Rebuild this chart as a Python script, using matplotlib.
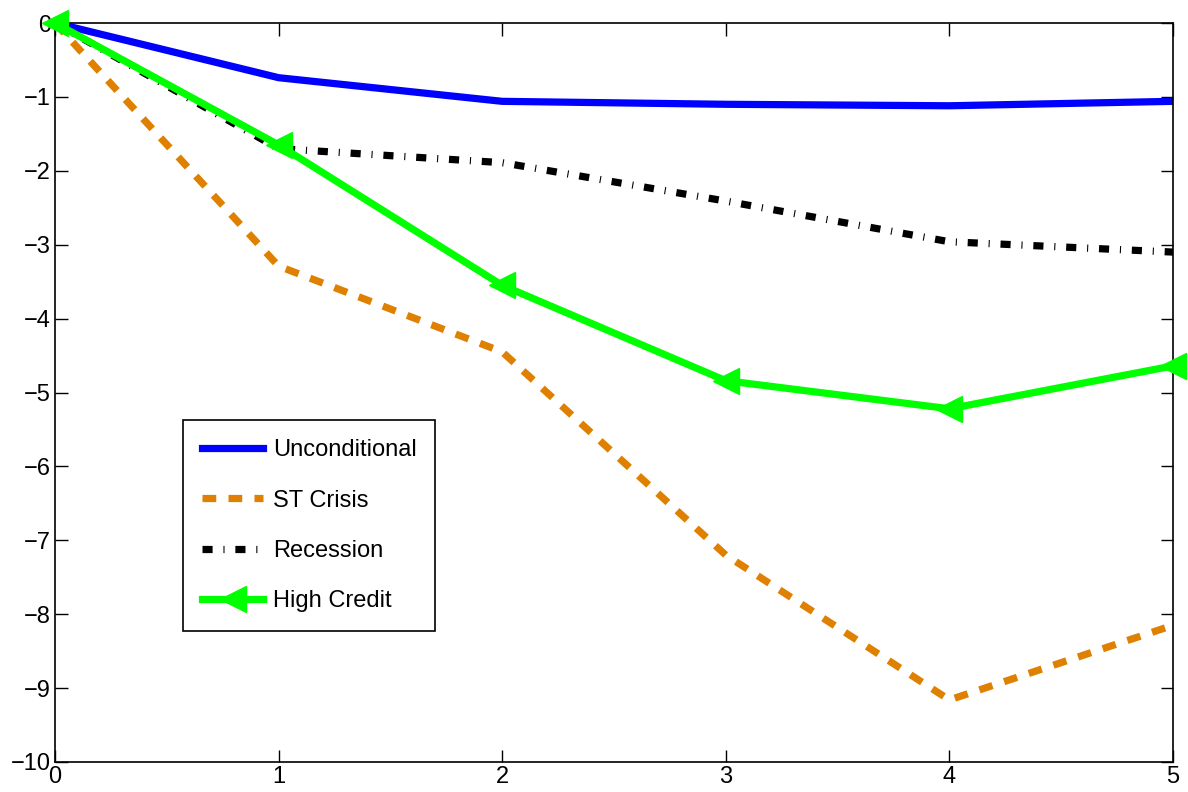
import matplotlib
matplotlib.use("Agg")
import matplotlib.pyplot as plt

plt.rcParams['font.family'] = ['Liberation Sans', 'DejaVu Sans']

horizons = [0, 1, 2, 3, 4, 5]
unconditional = [0, -0.74, -1.06, -1.10, -1.12, -1.06]
st_crisis = [0, -3.29, -4.45, -7.20, -9.16, -8.15]
recession = [0, -1.70, -1.89, -2.41, -2.96, -3.10]
high_credit = [0, -1.65, -3.55, -4.84, -5.22, -4.64]

x_ticks = [0, 1, 2, 3, 4, 5]
y_ticks = [0, -1, -2, -3, -4, -5, -6, -7, -8, -9, -10]

fig = plt.figure(figsize=(11.88, 7.92), dpi=100)
ax = fig.add_axes([55/1188, 1 - 762/792, (1173-55)/1188, (762-23)/792])

lw = 5.2
ax.plot(horizons, unconditional, color=(0, 0, 1), lw=lw, label='Unconditional')
ax.plot(horizons, st_crisis, color='#E08000', lw=lw, linestyle=(0, (1.9, 1.7)),
        dash_capstyle='butt', label='ST Crisis')
ax.plot(horizons, recession, color='black', lw=lw, linestyle=(0, (1.4, 1.5, 0.15, 1.5)),
        dash_capstyle='butt', label='Recession')
ax.plot(horizons, high_credit, color=(0, 1, 0), lw=lw, marker='<', markersize=19,
        clip_on=False, label='High Credit', zorder=5)

ax.set_xlim(0, 5)
ax.set_ylim(-10, 0)
ax.set_xticks(x_ticks)
ax.set_yticks(y_ticks)
ax.set_yticklabels(['\u2212' + str(-v) if v < 0 else str(v) for v in y_ticks])
ax.tick_params(direction='in', length=9, width=1, top=True, right=True,
               labelsize=17, pad=3)
for s in ax.spines.values():
    s.set_linewidth(1.2)

leg = ax.legend(loc='lower left', bbox_to_anchor=(0.1145, 0.177), borderaxespad=0,
                fontsize=17, fancybox=False, edgecolor='black', framealpha=1,
                handlelength=2.6, labelspacing=1.2, borderpad=0.8, handletextpad=0.4)
leg.get_frame().set_linewidth(1.2)

fig.savefig('out.png', dpi=100)
